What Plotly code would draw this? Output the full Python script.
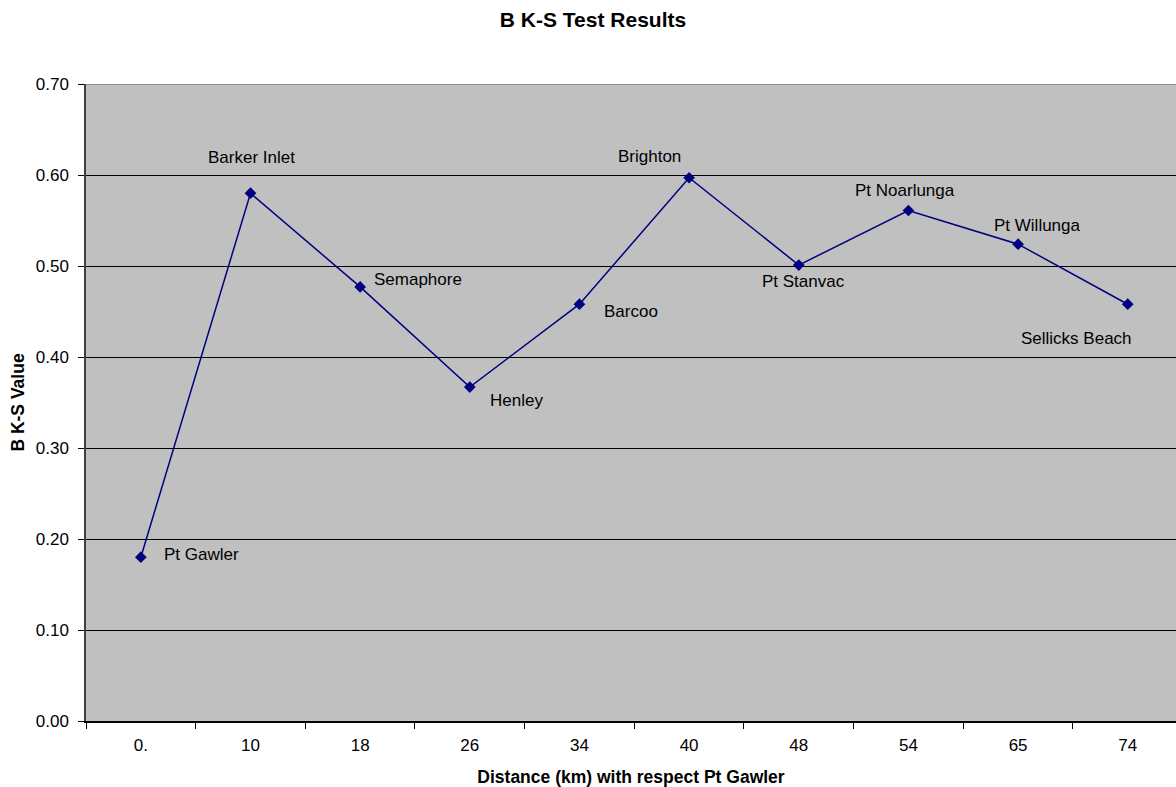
import plotly.graph_objects as go

# Distance from Pt Gawler (km), shown as category labels
distance_labels = ["0.", "10", "18", "26", "34", "40", "48", "54", "65", "74"]
sites = ["Pt Gawler", "Barker Inlet", "Semaphore", "Henley", "Barcoo",
         "Brighton", "Pt Stanvac", "Pt Noarlunga", "Pt Willunga", "Sellicks Beach"]
bks_values = [0.18, 0.58, 0.477, 0.367, 0.458, 0.597, 0.501, 0.561, 0.524, 0.458]

# Label placement relative to each marker (pixels; +y is upward)
label_shift = {
    "Pt Gawler": (61, 3),
    "Barker Inlet": (1, 36),
    "Semaphore": (58, 7),
    "Henley": (47, -13),
    "Barcoo": (52, -7),
    "Brighton": (-40, 21),
    "Pt Stanvac": (5, -16),
    "Pt Noarlunga": (-3, 20),
    "Pt Willunga": (19, 19),
    "Sellicks Beach": (-51, -34),
}

FONT = "Liberation Sans, Arial, sans-serif"
NAVY = "#000080"

fig = go.Figure()
fig.add_trace(go.Scatter(
    x=distance_labels,
    y=bks_values,
    mode="lines+markers",
    line=dict(color=NAVY, width=1.5),
    marker=dict(symbol="diamond", size=9, color=NAVY),
    hovertext=sites,
    showlegend=False,
))

# Category positions are addressed by index so labels like "10" are not
# mistaken for a numeric position on the category axis
for idx, (yval, name) in enumerate(zip(bks_values, sites)):
    dx, dy = label_shift[name]
    fig.add_annotation(
        x=idx, y=yval, xref="x", yref="y", text=name, showarrow=False,
        xshift=dx, yshift=dy, xanchor="center", yanchor="middle",
        font=dict(family=FONT, size=17, color="#000000"),
    )

# Grey frame line along the top of the plot area
fig.add_shape(type="line", xref="paper", yref="y", x0=0, x1=1, y0=0.70, y1=0.70,
              line=dict(color="#808080", width=1.5), layer="above")

fig.update_layout(
    width=1176, height=787,
    margin=dict(l=86, r=0, t=84, b=66),
    paper_bgcolor="#FFFFFF",
    plot_bgcolor="#C0C0C0",
    font=dict(family=FONT, size=17, color="#000000"),
    title=dict(text="<b>B K-S Test Results</b>", font=dict(family=FONT, size=21),
               xref="container", yref="container", x=593 / 1176, y=1 - 20 / 787,
               xanchor="center", yanchor="middle"),
)

fig.update_xaxes(
    type="category",
    categoryorder="array", categoryarray=distance_labels,
    range=[-0.5, 9.44],
    tickson="boundaries",
    ticks="outside", ticklen=6, tickcolor="#000000", tickwidth=1,
    showgrid=False, zeroline=False,
    showline=True, linecolor="#000000", linewidth=1.5,
    ticklabelstandoff=8,
    title=dict(text="<b>Distance (km) with respect Pt Gawler</b>",
               font=dict(family=FONT, size=17.5), standoff=17),
)

fig.update_yaxes(
    range=[0, 0.70], dtick=0.1, tickformat=".2f",
    ticks="outside", ticklen=6, tickcolor="#000000", tickwidth=1,
    showgrid=True, gridcolor="#000000", gridwidth=1,
    zeroline=False,
    showline=True, linecolor="#404040", linewidth=1.5,
    ticklabelstandoff=6,
    title=dict(text="<b>B K-S Value</b>", font=dict(family=FONT, size=17.5), standoff=7),
)

fig.write_html("out.html")
